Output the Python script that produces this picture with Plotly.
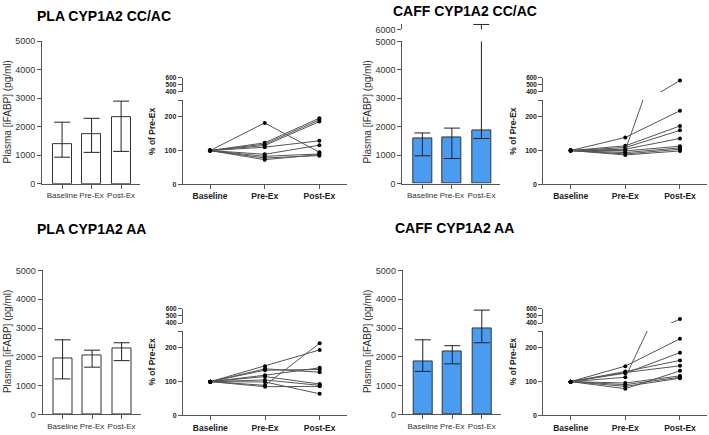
import plotly.graph_objects as go

W, H = 709, 435

# ---------------- data ----------------
cats = ["Baseline", "Pre-Ex", "Post-Ex"]

# bar charts: median and upper / lower whisker ends (pg/ml)
pla_ccac_med = [1386, 1727, 2330]
pla_ccac_hi = [2159, 2295, 2898]
pla_ccac_lo = [932, 1102, 1136]

caff_ccac_med = [1583, 1606, 1870]
caff_ccac_hi = [1778, 1950, 6170]
caff_ccac_lo = [975, 880, 1583]

pla_aa_med = [1945, 2060, 2285]
pla_aa_hi = [2590, 2230, 2488]
pla_aa_lo = [1232, 1640, 1867]

caff_aa_med = [1833, 2172, 2998]
caff_aa_hi = [2590, 2386, 3622]
caff_aa_lo = [1494, 1755, 2488]

# individual responses (% of Pre-Ex), baseline = 100
baseline_pct = 100
pla_ccac_pre = [182, 123, 119, 115, 110, 89, 83, 78, 73]
pla_ccac_post = [95, 196, 191, 186, 129, 116, 90, 85, 88]

caff_ccac_pre = [139, 114, 109, 104, 101, 99, 94, 90, 87]
caff_ccac_post = [218, 173, 160, 136, 561, 113, 108, 104, 99]

pla_aa_pre = [146, 138, 134, 119, 115, 105, 99, 89, 85]
pla_aa_post = [194, 128, 136, 141, 93, 89, 64, 214, 86]

caff_aa_pre = [146, 130, 127, 125, 113, 96, 91, 86, 79]
caff_aa_post = [227, 163, 147, 186, 455, 117, 113, 110, 132]

titles = ["PLA CYP1A2 CC/AC", "CAFF CYP1A2 CC/AC", "PLA CYP1A2 AA", "CAFF CYP1A2 AA"]
bar_ticks = [0, 1000, 2000, 3000, 4000, 5000]
pct_ticks_low = [0, 100, 200, 250]
pct_ticks_low_text = ["0", "100", "200", ""]
pct_ticks_up = [400, 500, 600]

WHITE = "white"
BLUE = "#4a9cf0"
AX = "#555555"
FONT = "Arial, Liberation Sans, sans-serif"


def xd(a, b):
    return [a / W, b / W]


def yd(top, bottom):
    return [1 - bottom / H, 1 - top / H]


fig = go.Figure()
layout = {}

common = dict(showgrid=False, zeroline=False, showline=True, linecolor=AX, linewidth=1,
              ticks="outside", ticklen=4, tickcolor=AX, tickwidth=1)


def add_bar(xn, yn, med, hi, lo, color):
    fig.add_trace(go.Bar(
        x=cats, y=med, xaxis=xn, yaxis=yn, width=0.64,
        marker=dict(color=color, line=dict(color="#333333", width=1)),
        error_y=dict(type="data", symmetric=False,
                     array=[h - m for h, m in zip(hi, med)],
                     arrayminus=[m - l for m, l in zip(med, lo)],
                     color="#222222", thickness=1, width=8),
        showlegend=False, hoverinfo="skip"))


def add_lines(xn, yns, pre, post):
    for p, q in zip(pre, post):
        for yn in yns:
            fig.add_trace(go.Scatter(
                x=cats, y=[baseline_pct, p, q], xaxis=xn, yaxis=yn,
                mode="lines+markers",
                line=dict(color="#555555", width=1),
                marker=dict(color="black", size=4),
                showlegend=False, hoverinfo="skip"))


def bar_xaxis(key, anchor, x0):
    layout[key] = dict(common, type="category", domain=xd(x0, x0 + 98), anchor=anchor,
                       range=[-0.68, 2.64], tickangle=0,
                       tickfont=dict(size=8, color="#333", family=FONT))


def bar_yaxis(key, anchor, top, bottom, rng, tv):
    layout[key] = dict(common, domain=yd(top, bottom), anchor=anchor, range=rng,
                       tickvals=tv, tickfont=dict(size=9, color="#333", family=FONT))


def line_axes(xkey, anchor_low, ylow, yup, xanchor, x0, y0):
    # x0: y-axis pixel x ; y0: pixel y of value 0
    layout[xkey] = dict(common, type="category", domain=xd(x0, x0 + 164), anchor=anchor_low,
                        range=[-0.5, 2.5], tickangle=0,
                        tickfont=dict(size=8.5, color="#222", family=FONT, weight="bold"))
    layout[ylow] = dict(common, domain=yd(y0 - 86.25, y0), anchor=xanchor, range=[0, 250],
                        tickvals=pct_ticks_low, ticktext=pct_ticks_low_text,
                        tickfont=dict(size=7, color="#222", family=FONT, weight="bold"))
    layout[yup] = dict(common, domain=yd(y0 - 109, y0 - 94.5), anchor=xanchor, range=[400, 600],
                       tickvals=pct_ticks_up,
                       tickfont=dict(size=6.5, color="#222", family=FONT, weight="bold"))


# ---- top-left: PLA CC/AC bars
add_bar("x", "y", pla_ccac_med, pla_ccac_hi, pla_ccac_lo, WHITE)
bar_xaxis("xaxis", "y", 42)
bar_yaxis("yaxis", "x", 37, 183, [0, 5000], bar_ticks)

# ---- top: PLA CC/AC lines
add_lines("x2", ["y2", "y3"], pla_ccac_pre, pla_ccac_post)
line_axes("xaxis2", "y2", "yaxis2", "yaxis3", "x2", 182.7, 183.5)

# ---- top: CAFF CC/AC bars with broken axis
add_bar("x3", "y4", caff_ccac_med, caff_ccac_hi, caff_ccac_lo, BLUE)
add_bar("x3", "y5", caff_ccac_med, caff_ccac_hi, caff_ccac_lo, BLUE)
bar_xaxis("xaxis3", "y4", 402.3)
bar_yaxis("yaxis4", "x3", 37.3, 182.7, [0, 5000], bar_ticks)
bar_yaxis("yaxis5", "x3", 19, 25, [6000, 6200], [6000])

# ---- top-right: CAFF CC/AC lines
add_lines("x4", ["y6", "y7"], caff_ccac_pre, caff_ccac_post)
line_axes("xaxis4", "y6", "yaxis6", "yaxis7", "x4", 543.3, 183.5)

# ---- bottom-left: PLA AA bars
add_bar("x5", "y8", pla_aa_med, pla_aa_hi, pla_aa_lo, WHITE)
bar_xaxis("xaxis5", "y8", 42.5)
bar_yaxis("yaxis8", "x5", 271.7, 419, [0, 5000], bar_ticks)

# ---- bottom: PLA AA lines
add_lines("x6", ["y9", "y10"], pla_aa_pre, pla_aa_post)
line_axes("xaxis6", "y9", "yaxis9", "yaxis10", "x6", 183, 420)

# ---- bottom: CAFF AA bars
add_bar("x7", "y11", caff_aa_med, caff_aa_hi, caff_aa_lo, BLUE)
bar_xaxis("xaxis7", "y11", 402.7)
bar_yaxis("yaxis11", "x7", 271.7, 419, [0, 5000], bar_ticks)

# ---- bottom-right: CAFF AA lines
add_lines("x8", ["y12", "y13"], caff_aa_pre, caff_aa_post)
line_axes("xaxis8", "y12", "yaxis12", "yaxis13", "x8", 543.3, 420)

annotations = []
title_pos = [(104, 11), (465, 6), (91, 229), (454, 228)]
for t, (px, py) in zip(titles, title_pos):
    annotations.append(dict(text=t, x=px / W, y=1 - py / H, xref="paper", yref="paper",
                            showarrow=False, xanchor="center", yanchor="middle",
                            font=dict(size=14, color="black", family=FONT, weight="bold")))
for px, py in [(7, 110), (367, 110), (7, 345), (367, 345)]:
    annotations.append(dict(text="Plasma [iFABP] (pg/ml)", x=px / W, y=1 - py / H,
                            xref="paper", yref="paper", showarrow=False, textangle=-90,
                            xanchor="center", yanchor="middle",
                            font=dict(size=10, color="#333", family=FONT)))
for px, py in [(152, 129), (512.6, 129), (152, 365), (512.6, 365)]:
    annotations.append(dict(text="% of Pre-Ex", x=px / W, y=1 - py / H,
                            xref="paper", yref="paper", showarrow=False, textangle=-90,
                            xanchor="center", yanchor="middle",
                            font=dict(size=8.5, color="#222", family=FONT, weight="bold")))

fig.update_layout(
    width=W, height=H, margin=dict(l=0, r=0, t=0, b=0),
    paper_bgcolor="white", plot_bgcolor="white",
    annotations=annotations, bargap=0, **layout)

fig.write_html("out.html")
